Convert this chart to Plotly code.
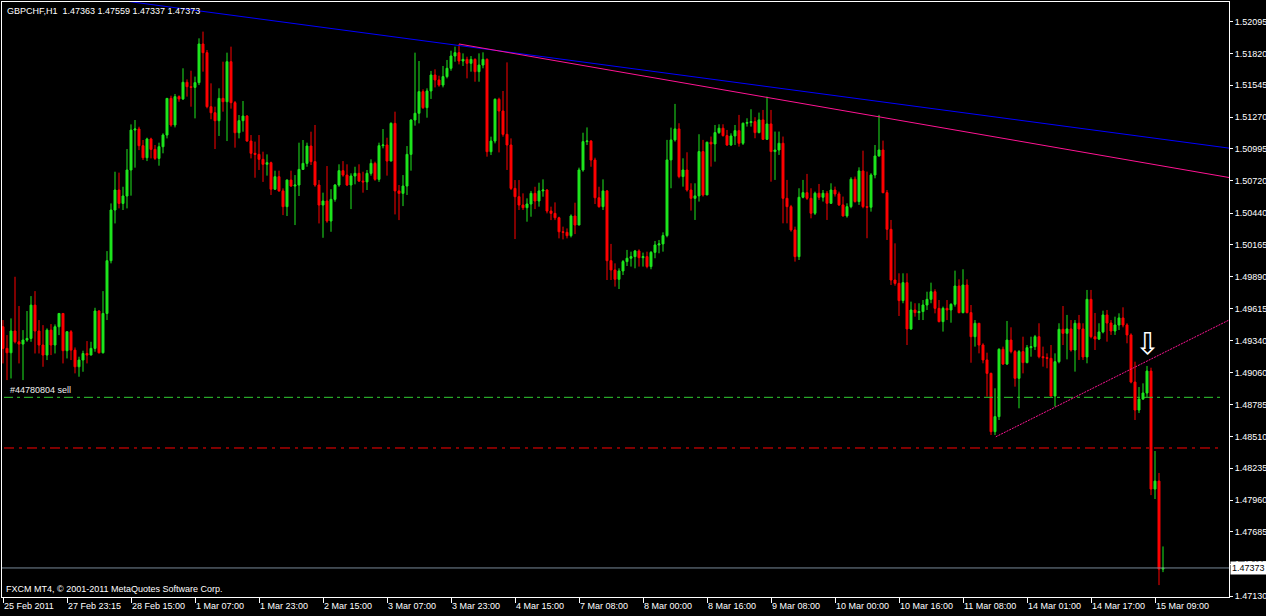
import plotly.graph_objects as go

# GBPCHF H1, 25 Feb 2011 - 15 Mar 2011 (bar index 0..290)
first_open = 1.49458

close = [
    1.49271, 1.49233, 1.49421, 1.49328, 1.49308, 1.49343, 1.49357, 1.49645, 1.49421, 1.49300,
    1.49213, 1.49429, 1.49300, 1.49458, 1.49573, 1.49251, 1.49415, 1.49256, 1.49112, 1.49170,
    1.49227, 1.49213, 1.49271, 1.49594, 1.49233, 1.49573, 1.50029, 1.50467, 1.50640, 1.50524,
    1.50588, 1.50813, 1.51158, 1.51167, 1.51023, 1.50919, 1.51081, 1.50991, 1.50913, 1.51014,
    1.51115, 1.51432, 1.51202, 1.51447, 1.51427, 1.51571, 1.51533, 1.51527, 1.51568, 1.51902,
    1.51827, 1.51360, 1.51308, 1.51239, 1.51432, 1.51403, 1.51749, 1.51395, 1.51135, 1.51239,
    1.51279, 1.51063, 1.50957, 1.50948, 1.50905, 1.50862, 1.50876, 1.50647, 1.50755, 1.50632,
    1.50496, 1.50726, 1.50674, 1.50683, 1.50818, 1.50870, 1.51020, 1.50885, 1.50683, 1.50510,
    1.50545, 1.50372, 1.50559, 1.50683, 1.50807, 1.50769, 1.50683, 1.50761, 1.50784, 1.50717,
    1.50710, 1.50784, 1.50870, 1.50732, 1.51023, 1.51029, 1.50890, 1.51216, 1.50632, 1.50611,
    1.50674, 1.50948, 1.51245, 1.51303, 1.51490, 1.51352, 1.51496, 1.51634, 1.51591, 1.51547,
    1.51620, 1.51692, 1.51798, 1.51827, 1.51755, 1.51769, 1.51735, 1.51769, 1.51663, 1.51720,
    1.51769, 1.50971, 1.51063, 1.51424, 1.51323, 1.51121, 1.51029, 1.50654, 1.50582, 1.50510,
    1.50487, 1.50519, 1.50611, 1.50545, 1.50632, 1.50640, 1.50458, 1.50438, 1.50400, 1.50279,
    1.50274, 1.50245, 1.50415, 1.50337, 1.50813, 1.51058, 1.51063, 1.50899, 1.50573, 1.50496,
    1.50632, 1.50029, 1.49949, 1.49868, 1.49940, 1.50021, 1.50050, 1.50064, 1.50113, 1.50055,
    1.50064, 1.49978, 1.50101, 1.50165, 1.50174, 1.50246, 1.50900, 1.51073, 1.51168, 1.50756,
    1.50813, 1.50640, 1.50568, 1.50589, 1.50972, 1.50597, 1.51053, 1.51038, 1.51136, 1.51174,
    1.51110, 1.51029, 1.51107, 1.51153, 1.51044, 1.51217, 1.51223, 1.51231, 1.51136, 1.51246,
    1.51078, 1.51211, 1.50972, 1.50986, 1.51044, 1.50568, 1.50496, 1.50295, 1.50064, 1.50577,
    1.50617, 1.50568, 1.50439, 1.50612, 1.50577, 1.50612, 1.50525, 1.50640, 1.50606, 1.50511,
    1.50416, 1.50496, 1.50733, 1.50540, 1.50805, 1.50496, 1.50491, 1.50770, 1.50934, 1.50986,
    1.50617, 1.50300, 1.49862, 1.49833, 1.49684, 1.49839, 1.49439, 1.49603, 1.49580, 1.49589,
    1.49646, 1.49695, 1.49761, 1.49617, 1.49502, 1.49617, 1.49603, 1.49652, 1.49810, 1.49580,
    1.49819, 1.49580, 1.49372, 1.49488, 1.49300, 1.49171, 1.49055, 1.48551, 1.48681, 1.49263,
    1.49136, 1.49343, 1.49243, 1.49012, 1.49243, 1.49148, 1.49277, 1.49286, 1.49372, 1.49199,
    1.49191, 1.49185, 1.48859, 1.49156, 1.49436, 1.49401, 1.49439, 1.49257, 1.49488, 1.49439,
    1.49197, 1.49695, 1.49372, 1.49352, 1.49413, 1.49560, 1.49490, 1.49421, 1.49473, 1.49534,
    1.49473, 1.49387, 1.48980, 1.48738, 1.48833, 1.48885, 1.49075, 1.48055, 1.48124, 1.47363,
    1.47373,
]

high = [
    1.49516, 1.49386, 1.49530, 1.49890, 1.49637, 1.49429, 1.49594, 1.49723, 1.49766, 1.49516,
    1.49472, 1.49444, 1.49481, 1.49478, 1.49573, 1.49573, 1.49421, 1.49429, 1.49279, 1.49199,
    1.49251, 1.49334, 1.49328, 1.49622, 1.49602, 1.49766, 1.50112, 1.50524, 1.50798, 1.50790,
    1.50668, 1.50994, 1.51207, 1.51245, 1.51187, 1.51072, 1.51092, 1.51092, 1.51029, 1.51049,
    1.51130, 1.51432, 1.51455, 1.51470, 1.51458, 1.51692, 1.51596, 1.51671, 1.51620, 1.51951,
    1.52009, 1.51850, 1.51562, 1.51360, 1.51519, 1.51749, 1.51827, 1.51879, 1.51409, 1.51288,
    1.51409, 1.51288, 1.51115, 1.51058, 1.51115, 1.50971, 1.50948, 1.50885, 1.50807, 1.50807,
    1.50654, 1.50732, 1.50807, 1.50769, 1.51049, 1.51072, 1.51049, 1.51144, 1.51202, 1.50726,
    1.50617, 1.50847, 1.50647, 1.50691, 1.50862, 1.50890, 1.50862, 1.50784, 1.50841, 1.50862,
    1.50798, 1.50813, 1.50905, 1.50885, 1.51049, 1.51167, 1.51092, 1.51225, 1.51317, 1.50683,
    1.50769, 1.51020, 1.51251, 1.51827, 1.51755, 1.51510, 1.51519, 1.51669, 1.51683, 1.51628,
    1.51712, 1.51764, 1.51844, 1.51879, 1.51902, 1.51821, 1.51792, 1.51798, 1.51778, 1.51821,
    1.51830, 1.51778, 1.51101, 1.51432, 1.51438, 1.51496, 1.51743, 1.51086, 1.50726, 1.50726,
    1.50611, 1.50568, 1.50632, 1.50668, 1.50703, 1.50732, 1.50647, 1.50496, 1.50533, 1.50409,
    1.50323, 1.50308, 1.50429, 1.50530, 1.50833, 1.51135, 1.51181, 1.51072, 1.50919, 1.50668,
    1.50732, 1.50640, 1.50174, 1.50006, 1.49963, 1.50035, 1.50122, 1.50107, 1.50122, 1.50127,
    1.50099, 1.50107, 1.50113, 1.50199, 1.50208, 1.50274, 1.51073, 1.51179, 1.51384, 1.51217,
    1.50914, 1.50966, 1.50698, 1.50698, 1.51122, 1.51073, 1.51058, 1.51102, 1.51202, 1.51208,
    1.51208, 1.51159, 1.51130, 1.51202, 1.51289, 1.51223, 1.51260, 1.51338, 1.51269, 1.51309,
    1.51332, 1.51447, 1.51332, 1.51145, 1.51145, 1.51102, 1.50727, 1.50511, 1.50323, 1.50655,
    1.50727, 1.50779, 1.50655, 1.50626, 1.50692, 1.50640, 1.50632, 1.50698, 1.50669, 1.50626,
    1.50583, 1.50525, 1.50750, 1.50756, 1.50836, 1.50980, 1.50799, 1.50785, 1.51029, 1.51289,
    1.51067, 1.50640, 1.50381, 1.50179, 1.49920, 1.49920, 1.49920, 1.49675, 1.49661, 1.49661,
    1.49689, 1.49761, 1.49839, 1.49782, 1.49689, 1.49632, 1.49689, 1.49661, 1.49943, 1.49868,
    1.49955, 1.49868, 1.49646, 1.49516, 1.49488, 1.49315, 1.49234, 1.49061, 1.48926, 1.49272,
    1.49286, 1.49508, 1.49453, 1.49257, 1.49257, 1.49372, 1.49300, 1.49372, 1.49387, 1.49488,
    1.49286, 1.49228, 1.49300, 1.49228, 1.49488, 1.49637, 1.49560, 1.49516, 1.49516, 1.49560,
    1.49488, 1.49776, 1.49776, 1.49577, 1.49488, 1.49597, 1.49603, 1.49516, 1.49545, 1.49574,
    1.49626, 1.49488, 1.49401, 1.49156, 1.48937, 1.48969, 1.49119, 1.49104, 1.48384, 1.48194,
    1.47559,
]

low = [
    1.49141, 1.48997, 1.49011, 1.49314, 1.49141, 1.48997, 1.49328, 1.49328, 1.49227, 1.49227,
    1.49112, 1.49170, 1.49213, 1.49227, 1.49386, 1.49141, 1.49184, 1.49170, 1.49055, 1.49026,
    1.49069, 1.49141, 1.49213, 1.49242, 1.49227, 1.49227, 1.49516, 1.50006, 1.50351, 1.50481,
    1.50467, 1.50481, 1.50591, 1.50833, 1.50985, 1.50899, 1.50890, 1.50913, 1.50899, 1.50850,
    1.50957, 1.51086, 1.51187, 1.51181, 1.51403, 1.51418, 1.51447, 1.51360, 1.51259, 1.51547,
    1.51663, 1.51346, 1.51251, 1.50994, 1.51107, 1.51317, 1.51063, 1.51343, 1.51006, 1.51086,
    1.51144, 1.51058, 1.50913, 1.50746, 1.50813, 1.50710, 1.50764, 1.50597, 1.50640, 1.50625,
    1.50423, 1.50415, 1.50668, 1.50337, 1.50588, 1.50813, 1.50841, 1.50856, 1.50668, 1.50351,
    1.50227, 1.50357, 1.50279, 1.50539, 1.50668, 1.50755, 1.50674, 1.50475, 1.50689, 1.50710,
    1.50617, 1.50640, 1.50764, 1.50720, 1.50710, 1.51000, 1.50764, 1.50890, 1.50429, 1.50380,
    1.50501, 1.50597, 1.50807, 1.51196, 1.51216, 1.51340, 1.51265, 1.51427, 1.51527, 1.51533,
    1.51527, 1.51605, 1.51671, 1.51749, 1.51726, 1.51712, 1.51605, 1.51663, 1.51576, 1.51576,
    1.51692, 1.50928, 1.50942, 1.51043, 1.50965, 1.51101, 1.50813, 1.50640, 1.50216, 1.50467,
    1.50467, 1.50366, 1.50409, 1.50475, 1.50496, 1.50582, 1.50438, 1.50380, 1.50380, 1.50222,
    1.50213, 1.50222, 1.50230, 1.50259, 1.50337, 1.50798, 1.51029, 1.50841, 1.50519, 1.50487,
    1.50467, 1.49862, 1.49862, 1.49805, 1.49784, 1.49905, 1.49983, 1.49978, 1.49963, 1.49978,
    1.49978, 1.49963, 1.49955, 1.50050, 1.50093, 1.50107, 1.50231, 1.50655, 1.51058, 1.50741,
    1.50669, 1.50626, 1.50462, 1.50381, 1.50540, 1.50583, 1.50597, 1.50842, 1.50885, 1.51125,
    1.51102, 1.51021, 1.51021, 1.51029, 1.51015, 1.51029, 1.51188, 1.51188, 1.51087, 1.51130,
    1.51073, 1.51073, 1.50712, 1.50727, 1.50943, 1.50352, 1.50352, 1.50280, 1.50021, 1.50035,
    1.50568, 1.50554, 1.50395, 1.50424, 1.50554, 1.50540, 1.50381, 1.50519, 1.50583, 1.50502,
    1.50410, 1.50401, 1.50482, 1.50531, 1.50511, 1.50482, 1.50223, 1.50453, 1.50741, 1.50929,
    1.50612, 1.50208, 1.49819, 1.49813, 1.49551, 1.49661, 1.49300, 1.49430, 1.49545, 1.49516,
    1.49516, 1.49603, 1.49661, 1.49574, 1.49496, 1.49416, 1.49516, 1.49493, 1.49632, 1.49574,
    1.49574, 1.49574, 1.49147, 1.49286, 1.49228, 1.49142, 1.48854, 1.48522, 1.48522, 1.48652,
    1.49127, 1.49127, 1.49228, 1.48940, 1.48753, 1.49055, 1.49142, 1.49199, 1.49257, 1.49185,
    1.49113, 1.49099, 1.48854, 1.48767, 1.49142, 1.49300, 1.49176, 1.49243, 1.49070, 1.49171,
    1.49171, 1.49142, 1.49358, 1.49257, 1.49343, 1.49401, 1.49329, 1.49387, 1.49387, 1.49430,
    1.49453, 1.49315, 1.48969, 1.48652, 1.48712, 1.48825, 1.48851, 1.48003, 1.47969, 1.47225,
    1.47337,
]

time_ticks = list(range(0, 289, 16))
time_labels = ["25 Feb 2011", "27 Feb 23:15", "28 Feb 15:00", "1 Mar 07:00", "1 Mar 23:00",
               "2 Mar 15:00", "3 Mar 07:00", "3 Mar 23:00", "4 Mar 15:00", "7 Mar 08:00",
               "8 Mar 00:00", "8 Mar 16:00", "9 Mar 08:00", "10 Mar 00:00", "10 Mar 16:00",
               "11 Mar 08:00", "14 Mar 01:00", "14 Mar 17:00", "15 Mar 09:00"]
price_ticks = [1.52095, 1.51820, 1.51545, 1.51270, 1.50995, 1.50720, 1.50440, 1.50165,
               1.49890, 1.49615, 1.49340, 1.49060, 1.48785, 1.48510, 1.48235, 1.47960,
               1.47685, 1.47405, 1.47130]

# drawn objects: (bar, price) anchors
blue_line_x = [0, 306.5]
blue_line_y = [1.52414, 1.51002]
res_line_x = [114, 306.5]
res_line_y = [1.51902, 1.50748]
sup_line_x = [248.2, 306.5]
sup_line_y = [1.48507, 1.49516]
order_price = 1.48848
stop_price = 1.48410
bid_price = 1.47373
arrow_bar = 286
arrow_price = 1.49309

UP = "#1ee61e"
DOWN = "#ff0000"
FONT = "Liberation Sans"

bars = list(range(len(close)))
opens = [first_open] + close[:-1]
hi = [max(h, o, c) for h, o, c in zip(high, opens, close)]
lo = [min(l, o, c) for l, o, c in zip(low, opens, close)]

fig = go.Figure()
fig.add_trace(go.Candlestick(
    x=bars, open=opens, high=hi, low=lo, close=close,
    increasing=dict(line=dict(color=UP, width=1), fillcolor=UP),
    decreasing=dict(line=dict(color=DOWN, width=1), fillcolor=DOWN),
    whiskerwidth=0, hoverinfo="skip", showlegend=False))

fig.add_trace(go.Scatter(x=blue_line_x, y=blue_line_y, mode="lines",
                         line=dict(color="#0000ff", width=1), hoverinfo="skip"))
fig.add_trace(go.Scatter(x=res_line_x, y=res_line_y, mode="lines",
                         line=dict(color="#ff1493", width=1), hoverinfo="skip"))
fig.add_trace(go.Scatter(x=sup_line_x, y=sup_line_y, mode="lines",
                         line=dict(color="#ff1493", width=1, dash="2px,1px"), hoverinfo="skip"))
fig.add_trace(go.Scatter(x=[0.25, 304.75], y=[order_price, order_price], mode="lines",
                         line=dict(color="#32cd32", width=1, dash="9px,4px,3px,4px"), hoverinfo="skip"))
fig.add_trace(go.Scatter(x=[0.25, 304.75], y=[stop_price, stop_price], mode="lines",
                         line=dict(color="#ff0000", width=1, dash="10px,5px,3px,5px"), hoverinfo="skip"))
fig.add_trace(go.Scatter(x=[-0.25, 306.5], y=[bid_price, bid_price], mode="lines",
                         line=dict(color="#778899", width=1), hoverinfo="skip"))

fig.add_annotation(x=0, xref="paper", y=1, yref="paper", xanchor="left", yanchor="top",
                   xshift=3, yshift=-2, showarrow=False,
                   text="GBPCHF,H1  1.47363 1.47559 1.47337 1.47373",
                   font=dict(family=FONT, size=9, color="white"))
fig.add_annotation(x=0, xref="paper", y=0, yref="paper", xanchor="left", yanchor="bottom",
                   xshift=2, yshift=1, showarrow=False,
                   text="FXCM MT4, © 2001-2011 MetaQuotes Software Corp.",
                   font=dict(family=FONT, size=9, color="white"))
fig.add_annotation(x=1.25, y=order_price, xanchor="left", yanchor="bottom", yshift=0,
                   showarrow=False, text="#44780804 sell",
                   font=dict(family=FONT, size=9, color="#f0f0f0"))
fig.add_annotation(x=arrow_bar, y=arrow_price, xanchor="center", yanchor="middle",
                   showarrow=False, text="⇩",
                   font=dict(family="DejaVu Sans", size=30, color="white"))
fig.add_annotation(x=1, xref="paper", y=bid_price, xanchor="left", yanchor="middle",
                   xshift=1, showarrow=False, text="1.47373", bgcolor="white", borderpad=1,
                   font=dict(family=FONT, size=9, color="black"))

fig.update_layout(
    width=1266, height=616,
    margin=dict(l=2, r=37, t=2, b=19, autoexpand=False),
    paper_bgcolor="black", plot_bgcolor="black",
    font=dict(family=FONT, size=9, color="white"),
    showlegend=False,
    boxgap=0.3,
    xaxis=dict(range=[-0.25, 306.5], rangeslider=dict(visible=False), automargin=False,
               tickmode="array", tickvals=time_ticks, ticktext=time_labels,
               ticks="outside", ticklen=5, tickcolor="white", tickwidth=1,
               ticklabelposition="outside right", tickangle=0, tickfont=dict(size=9),
               showgrid=False, zeroline=False, showline=True, linecolor="white",
               linewidth=1, mirror=True),
    yaxis=dict(range=[1.47122, 1.52265], side="right", automargin=False,
               tickmode="array", tickvals=price_ticks, tickformat=".5f",
               ticks="outside", ticklen=3, tickcolor="white", tickwidth=1,
               tickfont=dict(size=9),
               showgrid=False, zeroline=False, showline=True, linecolor="white",
               linewidth=1, mirror=True),
)

# page body margin would shift the chart; drop it so the figure fills the window
fig.write_html("out.html", config={"displayModeBar": False},
               post_script="document.body.style.margin='0';document.body.style.background='black';")
